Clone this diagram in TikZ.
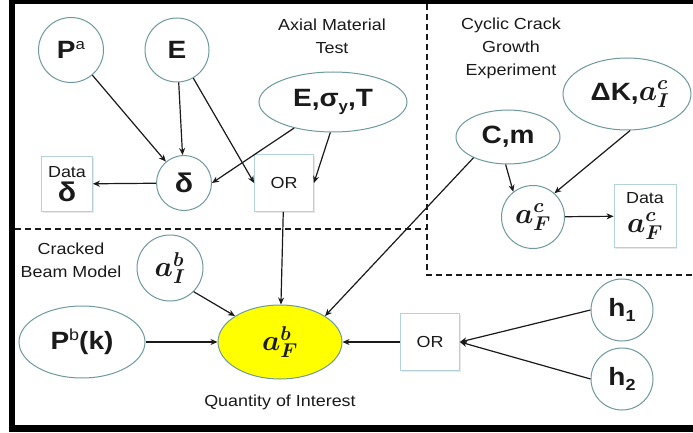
\RequirePackage{fix-cm}
\documentclass[tikz,border=0pt]{standalone}
\usepackage{amsmath}
\usepackage{bm}
\usepackage{fontspec}
\setmainfont{Liberation Sans}[FakeStretch=1.12]
\usetikzlibrary{arrows.meta,shapes.geometric,shadows}
\definecolor{nb}{HTML}{6E9A9E}
\definecolor{bb}{HTML}{B4D2DA}
\definecolor{txt}{HTML}{1A1A1A}
\definecolor{qoi}{HTML}{FFFF00}
\DeclareMathSizes{29}{29}{20}{15}
\newcommand{\bigmath}[1]{{\fontsize{29}{30}\selectfont$#1$}}
\newcommand{\bigbf}{\fontsize{25}{28}\selectfont\bfseries}
\newcommand{\lbl}{\fontsize{16}{23}\selectfont}
\begin{document}
\begin{tikzpicture}[x=1pt,y=-1pt,
  circ/.style={circle,draw=nb,line width=1pt,fill=white,inner sep=0pt,minimum size=#1,text=txt},
  ell/.style n args={2}{ellipse,draw=nb,line width=1pt,fill=white,inner sep=0pt,minimum width=#1,minimum height=#2,text=txt},
  databox/.style n args={2}{rectangle,draw=bb,line width=0.8pt,fill=white,inner sep=0pt,minimum width=#1,minimum height=#2,align=center,text=txt,font=\lbl,
     drop shadow={opacity=0.18,shadow xshift=1.2pt,shadow yshift=-1.2pt}},
  arr/.style={-{Stealth[length=7pt,width=6pt]},line width=1.2pt,draw=txt},
  dashln/.style={line width=1.2pt,dash pattern=on 6pt off 4pt,draw=txt},
  lab/.style={font=\lbl,align=center,text=txt,inner sep=0pt}]
\useasboundingbox (0,0) rectangle (693,433);
\fill[white] (0,0) rectangle (693,433);
% frame
\draw[line width=6.5pt] (12,1) rectangle (702,428.5);
% dashed partitions
\coordinate (vt) at (427,4);
\coordinate (vc) at (427,275);
\coordinate (vr) at (693,275);
\coordinate (hl) at (15,229);
\coordinate (hc) at (427,229);
\draw[dashln] (vt) -- (vc) -- (vr);
\draw[dashln] (hl) -- (hc);
% labels
\node[lab] (lAxial) at (332,36) {Axial Material\\Test};
\node[lab] (lCyclic) at (511,48) {Cyclic Crack\\Growth\\Experiment};
\node[lab] (lBeam) at (71,260) {Cracked\\Beam Model};
\node[lab] (lQoI) at (280,402) {Quantity of Interest};
% nodes
\node[circ=65] (Pa) at (71,50) {\bigbf P\raisebox{9pt}{\fontsize{15}{15}\selectfont\mdseries a}};
\node[circ=64] (E) at (177,50) {\bigbf E};
\node[ell={148}{60}] (EsT) at (333,102) {\bigbf E,σ\raisebox{-5pt}{\fontsize{15}{15}\selectfont y},T};
\node[circ=55] (delta) at (184,183) {\fontsize{27}{28}\selectfont\bfseries δ};
\node[databox={51}{55}] (datad) at (67,184) {Data\\[1pt]{\fontsize{27}{28}\selectfont\bfseries δ}};
\node[databox={59}{57}] (OR1) at (284,183) {OR};
\node[ell={104}{54}] (CM) at (508,137) {\bigbf C,m};
\node[ell={128}{72}] (DK) at (627,94) {\hspace{6pt}\bigbf ΔK,\bigmath{\bm{a}_{\bm{I}}^{\bm{c}}}};
\node[circ=63] (aFc) at (533,217) {\bigmath{\bm{a}_{\bm{F}}^{\bm{c}}}};
\node[databox={62}{63}] (dataFc) at (645,216) {Data\\[6pt]\bigmath{\bm{a}_{\bm{F}}^{\bm{c}}}};
\node[circ=66] (aIb) at (170,268) {\bigmath{\bm{a}_{\bm{I}}^{\bm{b}}}};
\node[ell={126}{72}] (Pbk) at (82,342) {\bigbf P\raisebox{9pt}{\fontsize{16}{16}\selectfont\mdseries b}(k)};
\node[ell={124}{74},fill=qoi] (aFb) at (280,342) {\bigmath{\bm{a}_{\bm{F}}^{\bm{b}}}};
\node[databox={59}{57}] (OR2) at (430,342) {OR};
\node[circ=62] (h1) at (622,310) {\bigbf h\raisebox{-5pt}{\fontsize{16}{16}\selectfont 1}};
\node[circ=62] (h2) at (622,379) {\bigbf h\raisebox{-5pt}{\fontsize{16}{16}\selectfont 2}};
% connectors
\draw[arr] (Pa) -- (delta);
\draw[arr] (E) -- (delta);
\draw[arr] (E) -- (OR1.west);
\draw[arr] (EsT) -- (delta.east);
\draw[arr] (EsT.265) -- (OR1.east);
\draw[arr] (delta) -- (datad);
\draw[arr] (OR1) -- (aFb);
\draw[arr] (CM.211) -- (aFb.30);
\draw[arr] (CM.265) -- (aFc.128);
\draw[arr] (DK.275) -- (aFc.48);
\draw[arr] (aFc) -- (dataFc);
\draw[arr] (aIb.-45) -- (aFb.150);
\draw[arr] (Pbk) -- (aFb);
\draw[arr] (OR2) -- (aFb);
\draw[arr] (h1.west) -- (OR2.east);
\draw[arr] (h2.west) -- (OR2.east);
\end{tikzpicture}
\end{document}
